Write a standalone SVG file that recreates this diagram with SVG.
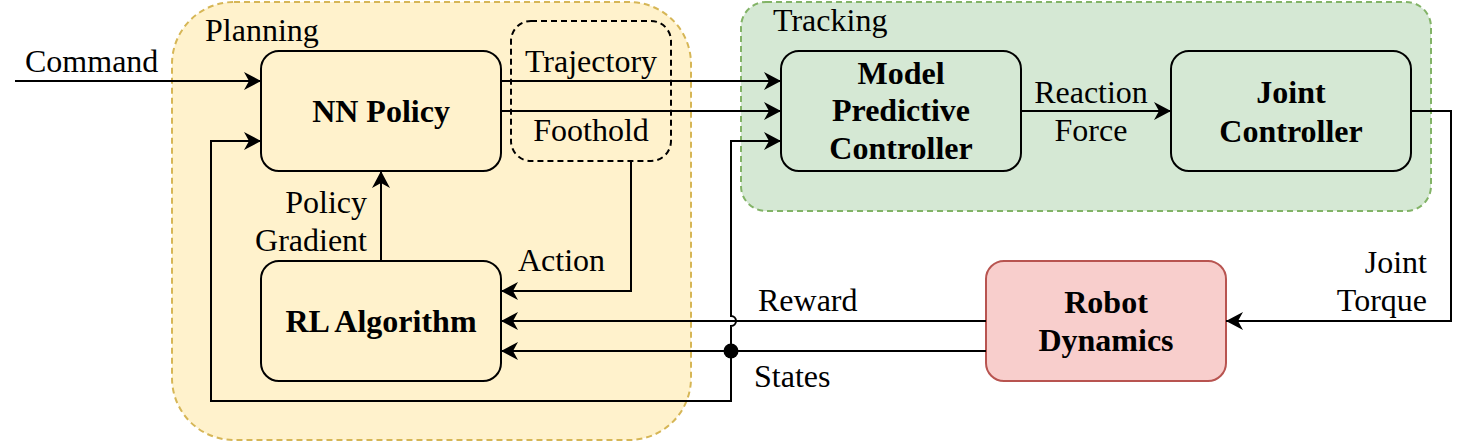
<svg xmlns="http://www.w3.org/2000/svg" width="1468" height="444" viewBox="0 0 1468 444">
<style>
text{font-family:"Liberation Serif","Times New Roman",serif;font-size:32px;fill:#000}
.b{font-weight:bold}
.m{text-anchor:middle}
.e{text-anchor:end}
.node{stroke:#000;stroke-width:2}
.conn path{fill:none;stroke:#000;stroke-width:2}
.arr{marker-end:url(#arrow)}
</style>
<defs>
<marker id="arrow" markerUnits="userSpaceOnUse" markerWidth="18" markerHeight="18" viewBox="0 0 18 18" refX="17" refY="9" orient="auto">
<path d="M17,9 L0,0 L5,9 L0,18 Z" fill="#000"/>
</marker>
</defs>
<rect width="1468" height="444" fill="#fff"/>
<g id="planning">
<rect x="172" y="2" width="519" height="438" rx="62" fill="#fff2cc" stroke="#d6b656" stroke-width="2" stroke-dasharray="6 4"/>
<text x="205" y="41">Planning</text>
</g>
<g id="tracking">
<rect x="741" y="2" width="690" height="209" rx="25" fill="#d5e8d4" stroke="#82b366" stroke-width="2" stroke-dasharray="6 4"/>
<text x="773" y="31">Tracking</text>
</g>
<g id="outputs">
<rect x="511" y="21" width="160" height="140" rx="20" fill="none" stroke="#000" stroke-width="2" stroke-dasharray="6 4"/>
<text class="m" x="591" y="72">Trajectory</text>
<text class="m" x="591" y="141">Foothold</text>
</g>
<g id="nn-policy">
<rect class="node" x="261" y="51" width="240" height="120" rx="18" fill="#fff2cc"/>
<text class="b m" x="381" y="122">NN Policy</text>
</g>
<g id="rl-algorithm">
<rect class="node" x="261" y="261" width="240" height="120" rx="18" fill="#fff2cc"/>
<text class="b m" x="381" y="332">RL Algorithm</text>
</g>
<g id="mpc">
<rect class="node" x="781" y="51" width="240" height="120" rx="18" fill="#d5e8d4"/>
<text class="b m" x="901" y="84">Model</text>
<text class="b m" x="901" y="121">Predictive</text>
<text class="b m" x="901" y="159">Controller</text>
</g>
<g id="joint-controller">
<rect class="node" x="1171" y="51" width="240" height="120" rx="18" fill="#d5e8d4"/>
<text class="b m" x="1291" y="103">Joint</text>
<text class="b m" x="1291" y="142">Controller</text>
</g>
<g id="robot-dynamics">
<rect x="986" y="261" width="240" height="120" rx="18" fill="#f8cecc" stroke="#b85450" stroke-width="2"/>
<text class="b m" x="1106" y="313">Robot</text>
<text class="b m" x="1106" y="351">Dynamics</text>
</g>
<g id="connectors" class="conn">
<path class="arr" d="M15,81 H261"/>
<path class="arr" d="M501,81 H781"/>
<path class="arr" d="M501,111 H781"/>
<path class="arr" d="M631,161 V291 H501"/>
<path class="arr" d="M381,261 V171"/>
<path class="arr" d="M1021,111 H1171"/>
<path class="arr" d="M1411,111 H1451 V321 H1226"/>
<path class="arr" d="M986,321 H501"/>
<path class="arr" d="M986,351 H501"/>
<path class="arr" d="M731,351 V401 H211 V141 H261"/>
<path class="arr" d="M731,351 V326 A5,5 0 0 0 731,316 V141 H781"/>
<circle cx="731" cy="351" r="7.5" fill="#000"/>
<text x="25" y="72">Command</text>
<text class="m" x="1091" y="103">Reaction</text>
<text class="m" x="1091" y="141">Force</text>
<text class="e" x="367" y="213">Policy</text>
<text class="e" x="367" y="251">Gradient</text>
<text x="518" y="271">Action</text>
<text x="758" y="311">Reward</text>
<text x="754" y="387">States</text>
<text class="e" x="1427" y="273">Joint</text>
<text class="e" x="1427" y="311">Torque</text>
</g>
</svg>
